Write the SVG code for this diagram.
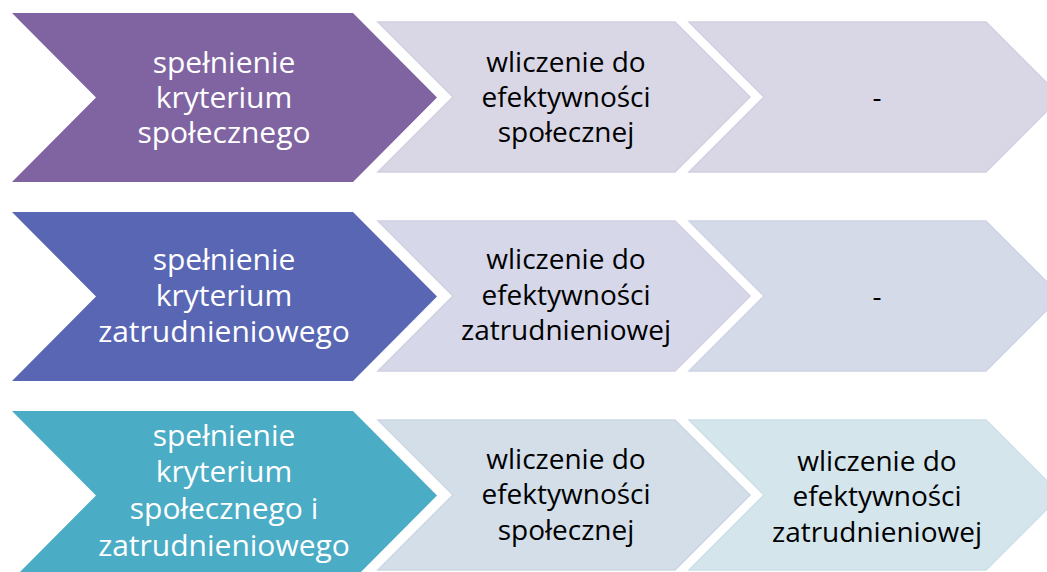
<svg xmlns="http://www.w3.org/2000/svg" width="1047" height="572" viewBox="0 0 1047 572">
<style>
  .t { font-family: "Open Sans", "Liberation Sans", sans-serif; text-anchor: middle; }
  .w { fill: #ffffff; font-size: 30px; }
  .k { fill: #000000; font-size: 28px; }
  .sec { stroke-width: 1.5; }
</style>
<defs>
  <polygon id="big" points="12,13 353,13 437,97.5 353,182 12,182 96,97.5"/>
  <polygon id="small" points="0,22 297,22 372,97 297,172 0,172 75,97"/>
</defs>
<rect width="1047" height="572" fill="#ffffff"/>

<!-- Row 1 -->
<g id="r1-a">
  <use href="#big" fill="#8064A2"/>
  <text class="t w" x="224" y="73">spełnienie</text>
  <text class="t w" x="224" y="108">kryterium</text>
  <text class="t w" x="224" y="143">społecznego</text>
</g>
<g id="r1-b">
  <use href="#small" x="378" fill="#D9D7E6" stroke="#D2CFE0" class="sec"/>
  <text class="t k" x="566" y="72">wliczenie do</text>
  <text class="t k" x="566" y="107">efektywności</text>
  <text class="t k" x="566" y="142">społecznej</text>
</g>
<g id="r1-c">
  <use href="#small" x="689" fill="#D9D7E6" stroke="#D2CFE0" class="sec"/>
  <text class="t k" x="877" y="107">-</text>
</g>

<!-- Row 2 -->
<g id="r2-a">
  <use href="#big" y="199" fill="#5866B4"/>
  <text class="t w" x="224" y="270">spełnienie</text>
  <text class="t w" x="224" y="306">kryterium</text>
  <text class="t w" x="224" y="342">zatrudnieniowego</text>
</g>
<g id="r2-b">
  <use href="#small" x="378" y="199" fill="#D6D7E8" stroke="#CFD1E3" class="sec"/>
  <text class="t k" x="566" y="269">wliczenie do</text>
  <text class="t k" x="566" y="305">efektywności</text>
  <text class="t k" x="566" y="340">zatrudnieniowej</text>
</g>
<g id="r2-c">
  <use href="#small" x="689" y="199" fill="#D5DAE9" stroke="#CED4E4" class="sec"/>
  <text class="t k" x="877" y="306">-</text>
</g>

<!-- Row 3 -->
<g id="r3-a">
  <use href="#big" y="398" fill="#4BACC6"/>
  <text class="t w" x="224" y="446">spełnienie</text>
  <text class="t w" x="224" y="482">kryterium</text>
  <text class="t w" x="224" y="519">społecznego i</text>
  <text class="t w" x="224" y="556">zatrudnieniowego</text>
</g>
<g id="r3-b">
  <use href="#small" x="378" y="398" fill="#D4DEE9" stroke="#CCD7E4" class="sec"/>
  <text class="t k" x="566" y="469">wliczenie do</text>
  <text class="t k" x="566" y="504">efektywności</text>
  <text class="t k" x="566" y="540">społecznej</text>
</g>
<g id="r3-c">
  <use href="#small" x="689" y="398" fill="#D4E5EC" stroke="#CCDFE7" class="sec"/>
  <text class="t k" x="877" y="471">wliczenie do</text>
  <text class="t k" x="877" y="506">efektywności</text>
  <text class="t k" x="877" y="542">zatrudnieniowej</text>
</g>
<g id="connectors"/>
</svg>
